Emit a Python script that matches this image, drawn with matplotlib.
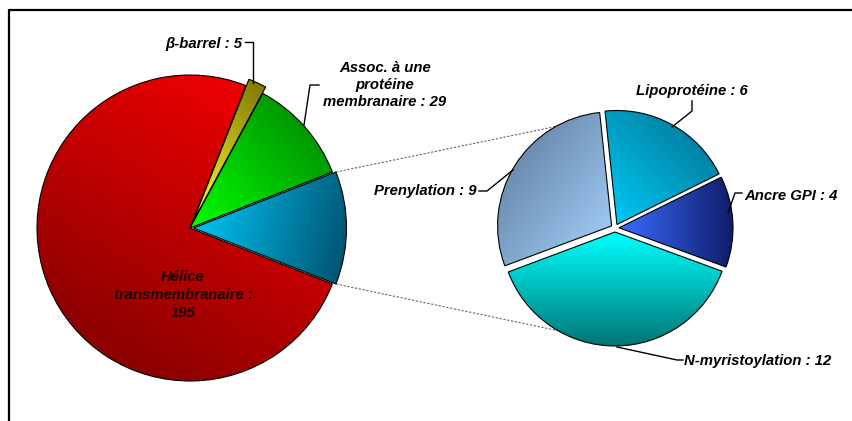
import numpy as np
import matplotlib
matplotlib.use("Agg")
import matplotlib.pyplot as plt
from matplotlib.colors import LinearSegmentedColormap

plt.rcParams['font.family'] = ['Liberation Sans', 'DejaVu Sans']

# main pie data (last slice = detail of the second pie)
main_names = ["Hélice\ntransmembranaire", "β-barrel", "Assoc. à une\nprotéine\nmembranaire", "Autre"]
main_values = [195, 5, 29, 31]
main_seps = [" :\n", " : ", " : ", None]

# second pie data
sub_names = ["Prenylation", "Lipoprotéine", "Ancre GPI", "N-myristoylation"]
sub_values = [9, 6, 4, 12]

# gradient colours (start, end, direction in degrees)
main_grad = [("#780000", "#ff0000", 60), ("#ffff30", "#7a7400", 60),
             ("#00ff00", "#007a00", 40), ("#00ccff", "#00506c", -10)]
sub_grad = [("#587696", "#a8d4ff", -45), ("#00ccf8", "#006c8a", 45),
            ("#3a6cff", "#101c6a", 0), ("#00ffff", "#007474", -90)]

W, H = 852, 421


def P(x, y):
    # pixel coords (y down) -> data coords (y up)
    return x, H - y


def fill_gradient(ax, wedge, c0, c1, angle):
    bb = wedge.get_path().get_extents()
    g = np.linspace(0, 1, 200)
    X, Y = np.meshgrid(g, g)
    a = np.radians(angle)
    t = X * np.cos(a) + Y * np.sin(a)
    t = (t - t.min()) / (t.max() - t.min())
    cmap = LinearSegmentedColormap.from_list("g", [c0, c1])
    im = ax.imshow(t, cmap=cmap, extent=(bb.x0, bb.x1, bb.y0, bb.y1), origin="lower",
                   aspect="auto", zorder=1, interpolation="bilinear")
    im.set_clip_path(wedge)
    wedge.set_facecolor("none")
    wedge.set_zorder(2)


fig = plt.figure(figsize=(W / 100, H / 100), dpi=100)
ax = fig.add_axes([0, 0, 1, 1])

main_r = 153
total = sum(main_values)
start = -360 * main_values[-1] / (2 * total)
# explode in data units (pixels here)
main_wedges, _ = ax.pie(main_values, center=P(190, 228), radius=main_r, startangle=start,
                        counterclock=False, explode=[0, 7, 0, 3.5],
                        colors=[c[1] for c in main_grad],
                        wedgeprops=dict(edgecolor="black", linewidth=0.8))
for w, (c0, c1, a) in zip(main_wedges, main_grad):
    fill_gradient(ax, w, c0, c1, a)

sub_start = 96 + 360 * sub_values[0] / sum(sub_values)
sub_center = P(615, 228)
sub_r = 114
sub_wedges, _ = ax.pie(sub_values, center=sub_center, radius=sub_r, startangle=sub_start,
                       counterclock=False, explode=[4] * 4,
                       colors=[c[1] for c in sub_grad],
                       wedgeprops=dict(edgecolor="black", linewidth=0.8))
for w, (c0, c1, a) in zip(sub_wedges, sub_grad):
    fill_gradient(ax, w, c0, c1, a)

# dotted connectors from the detail slice to the second pie
ow = main_wedges[-1]
for th_main, th_sub in [(ow.theta2, 114), (ow.theta1, -112)]:
    x0 = ow.center[0] + ow.r * np.cos(np.radians(th_main))
    y0 = ow.center[1] + ow.r * np.sin(np.radians(th_main))
    x1 = sub_center[0] + sub_r * np.cos(np.radians(th_sub))
    y1 = sub_center[1] + sub_r * np.sin(np.radians(th_sub))
    ax.plot([x0, x1], [y0, y1], color="#666666", lw=0.8, ls=(0, (2, 1.5)), zorder=0.5)

lab = dict(fontsize=10.7, fontweight="bold", fontstyle="italic", color="black", zorder=5)

main_labels = [f"{n}{s}{v}" for n, s, v in zip(main_names, main_seps, main_values) if s]
sub_labels = [f"{n} : {v}" for n, v in zip(sub_names, sub_values)]

# labels on the main pie
ax.text(*P(183, 295), main_labels[0], ha="center", va="center", linespacing=1.35,
        **{**lab, "color": "#1c0000"})
ax.text(*P(242, 44), main_labels[1], ha="right", va="center", **lab)
ax.text(*P(385, 85), main_labels[2], ha="center", va="center", linespacing=1.3, **lab)

# labels on the second pie
ax.text(*P(476, 191), sub_labels[0], ha="right", va="center", **lab)
ax.text(*P(692, 91), sub_labels[1], ha="center", va="center", **lab)
ax.text(*P(744, 196), sub_labels[2], ha="left", va="center", **lab)
ax.text(*P(684, 361), sub_labels[3], ha="left", va="center", **lab)

# leader lines
leaders = [
    [(253, 83), (253, 42), (245, 42)],
    [(304, 125), (310, 85), (319, 85)],
    [(513, 170), (487, 191), (479, 191)],
    [(672, 127), (692, 111), (692, 101)],
    [(728, 213), (735, 193), (742, 193)],
    [(617, 347), (677, 360), (683, 360)],
]
for pts in leaders:
    xs, ys = zip(*[P(x, y) for x, y in pts])
    ax.plot(xs, ys, color="black", lw=1, zorder=4)

# chart frame (top and left edges visible)
ax.plot(*zip(P(9, 421), P(9, 10), P(852, 10)), color="black", lw=1.6, zorder=6)

ax.set_xlim(0, W)
ax.set_ylim(0, H)
ax.set_aspect("auto")
ax.axis("off")

fig.savefig("out.png", dpi=100)
